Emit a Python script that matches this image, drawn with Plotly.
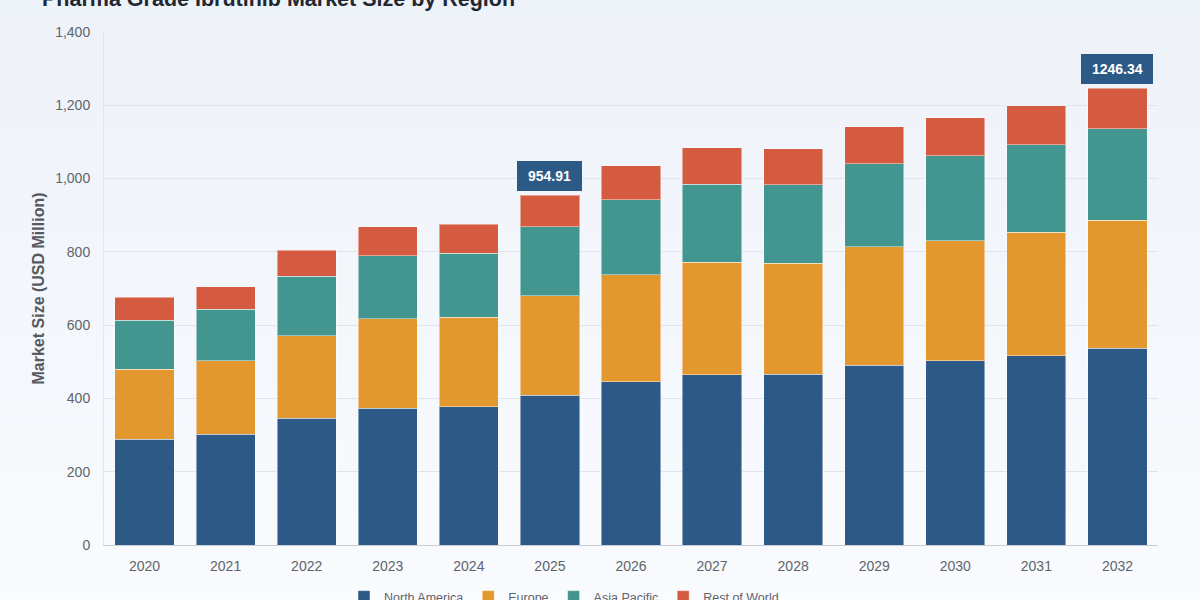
import base64
import plotly.graph_objects as go

# ---------------------------------------------------------------
# Data (USD million)
# ---------------------------------------------------------------
years = [2020, 2021, 2022, 2023, 2024, 2025, 2026,
         2027, 2028, 2029, 2030, 2031, 2032]

north_america = [289, 302, 346, 373, 377, 409.2, 446, 464, 466, 491, 503, 516, 537.1]
europe = [191, 201, 225, 245, 245, 270.6, 291, 307, 303, 323, 328, 337, 349.8]
asia_pacific = [134, 140, 163, 172, 174, 189.3, 205, 213, 214, 226, 231, 239, 248.4]
rest_of_world = [62, 62, 71, 78, 80, 85.81, 93, 100, 98, 102, 104, 107, 111.04]

highlight_years = [2025, 2032]

palette = {"na": "#2d5986", "eu": "#e3972f", "ap": "#42968f", "row": "#d45b3f",
           "bg": "#f3f6fb", "grid": "#e1e5eb", "text": "#5f646b", "title": "#222831"}

# soft vertical background gradient (page style only)
W, H = 1200, 600
ML, MR, MT, MB = 104, 42, 32, 55
svg = ('<svg xmlns="http://www.w3.org/2000/svg" width="10" height="100" preserveAspectRatio="none">'
       '<defs><linearGradient id="g" x1="0" y1="0" x2="0" y2="1">'
       '<stop offset="0" stop-color="#eef2f9"/><stop offset="1" stop-color="#f9fbfe"/>'
       '</linearGradient></defs><rect width="10" height="100" fill="url(#g)"/></svg>')
bg_uri = "data:image/svg+xml;base64," + base64.b64encode(svg.encode()).decode()

series = [("North America", north_america, palette["na"]),
          ("Europe", europe, palette["eu"]),
          ("Asia Pacific", asia_pacific, palette["ap"]),
          ("Rest of World", rest_of_world, palette["row"])]

fig = go.Figure()
for name, values, colour in series:
    fig.add_trace(go.Bar(
        x=years, y=values, name=name,
        marker=dict(color=colour, line=dict(color="rgba(255,255,255,0.45)", width=1)),
    ))

# total labels above selected bars
totals = [sum(v) for v in zip(north_america, europe, asia_pacific, rest_of_world)]
for yr in highlight_years:
    i = years.index(yr)
    fig.add_annotation(
        x=yr, y=totals[i], text=f"&nbsp;<b>{totals[i]:.2f}</b>&nbsp;",
        showarrow=False, xanchor="center", yanchor="bottom", yshift=4,
        font=dict(color="white", size=14, family="Liberation Sans, Arial"),
        bgcolor=palette["na"], bordercolor=palette["na"], borderpad=6,
    )

pw, ph = W - ML - MR, H - MT - MB
fig.add_layout_image(
    source=bg_uri, xref="paper", yref="paper",
    x=-ML / pw, y=1 + MT / ph, sizex=W / pw, sizey=H / ph,
    xanchor="left", yanchor="top", sizing="stretch", layer="below",
)

fig.update_layout(
    width=W, height=H,
    barmode="stack", bargap=0.27,
    paper_bgcolor=palette["bg"], plot_bgcolor="rgba(0,0,0,0)",
    font=dict(family="Liberation Sans, Arial", color=palette["text"], size=12),
    title=dict(text="<b>Pharma Grade Ibrutinib Market Size by Region</b>",
               x=0.035, xanchor="left", xref="container",
               y=0.99, yanchor="bottom", yref="container",
               font=dict(size=21.5, color=palette["title"])),
    margin=dict(l=ML, r=MR, t=MT, b=MB, autoexpand=False),
    legend=dict(orientation="h", xref="container", x=0.47, xanchor="center",
                yref="container", y=0.03, yanchor="top", bgcolor="rgba(0,0,0,0)",
                font=dict(size=12.5, color=palette["text"]), traceorder="normal"),
    showlegend=True,
)
fig.update_xaxes(range=[years[0] - 0.5, years[-1] + 0.5], tickvals=years,
                 showline=True, linecolor="#c9ced6", linewidth=1,
                 tickfont=dict(size=14), ticks="", ticklabelstandoff=8,
                 showgrid=False, zeroline=False, automargin=False)
fig.update_yaxes(range=[0, 1400], dtick=200, tickformat=",",
                 gridcolor=palette["grid"], zeroline=False,
                 showline=True, linecolor="#e3e7ed", automargin=False,
                 tickfont=dict(size=14), ticklabelstandoff=10,
                 title=dict(text="<b>Market Size (USD Million)</b>",
                            font=dict(size=16, color="#555a61"), standoff=6))

fig.write_html("out.html", config={"displayModeBar": False},
               post_script="document.body.style.margin='0';")
